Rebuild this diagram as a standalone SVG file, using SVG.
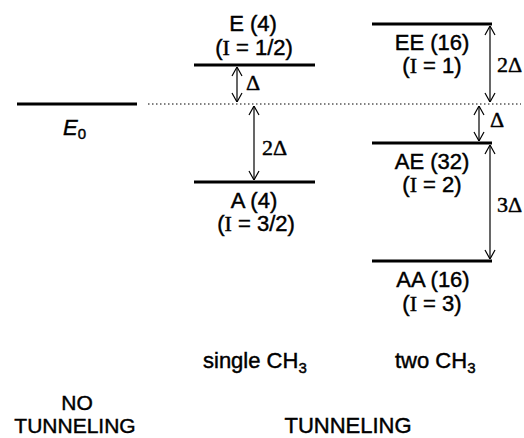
<svg xmlns="http://www.w3.org/2000/svg" width="524" height="438" viewBox="0 0 524 438">
<style>
text{font-family:"Liberation Sans",Arial,sans-serif;font-size:22px;fill:#000;stroke:#000;stroke-width:0.45}
.c{text-anchor:middle}
.s{font-family:"Liberation Serif","Times New Roman",serif}
.b{font-size:21px}
.lvl{stroke:#000;stroke-width:3;fill:none}
.arr{stroke:#000;stroke-width:1.2;fill:none;marker-start:url(#h);marker-end:url(#h)}
</style>
<defs>
<marker id="h" viewBox="0 0 10 12" refX="10" refY="6" markerWidth="10" markerHeight="12" markerUnits="userSpaceOnUse" orient="auto-start-reverse">
<path d="M1,1 L10,6 L1,11" fill="none" stroke="#000" stroke-width="1.2"/>
</marker>
</defs>
<rect width="524" height="438" fill="#fff"/>
<g id="baseline">
<line x1="148" y1="104" x2="521" y2="104" stroke="#000" stroke-width="1" stroke-dasharray="1.5,2.5"/>
</g>
<g id="E0">
<line class="lvl" x1="17" y1="104" x2="137" y2="104"/>
<text x="63" y="135" font-style="italic">E<tspan font-size="15" dy="4" font-style="normal">0</tspan></text>
</g>
<g id="E-single">
<line class="lvl" x1="194" y1="65" x2="315" y2="65"/>
<text class="c" x="253" y="31">E (4)</text>
<text class="c" x="254" y="55">(<tspan class="s">I</tspan> = 1/2)</text>
</g>
<g id="A-single">
<line class="lvl" x1="194" y1="182" x2="315" y2="182"/>
<text class="c" x="254" y="208">A (4)</text>
<text class="c" x="256" y="231">(<tspan class="s">I</tspan> = 3/2)</text>
</g>
<g id="EE">
<line class="lvl" x1="372" y1="24" x2="492" y2="24"/>
<text class="c" x="432" y="50">EE (16)</text>
<text class="c" x="432" y="73">(<tspan class="s">I</tspan> = 1)</text>
</g>
<g id="AE">
<line class="lvl" x1="372" y1="143" x2="492" y2="143"/>
<text class="c" x="432" y="169">AE (32)</text>
<text class="c" x="432" y="192">(<tspan class="s">I</tspan> = 2)</text>
</g>
<g id="AA">
<line class="lvl" x1="372" y1="261" x2="492" y2="261"/>
<text class="c" x="433" y="287">AA (16)</text>
<text class="c" x="432" y="311">(<tspan class="s">I</tspan> = 3)</text>
</g>
<g id="connectors">
<line class="arr" x1="237" y1="67" x2="237" y2="102"/>
<line class="arr" x1="254" y1="106" x2="254" y2="180"/>
<line class="arr" x1="490" y1="26" x2="490" y2="102"/>
<line class="arr" x1="479" y1="106" x2="479" y2="141"/>
<line class="arr" x1="490" y1="145" x2="490" y2="259"/>
</g>
<g id="deltas">
<text class="s" x="246" y="90">Δ</text>
<text class="s" x="262" y="155">2Δ</text>
<text class="s" x="497" y="72">2Δ</text>
<text class="s" x="490" y="127">Δ</text>
<text class="s" x="497" y="212">3Δ</text>
</g>
<g id="labels">
<text x="203" y="368">single CH<tspan font-size="15" dy="5">3</tspan></text>
<text x="395" y="368">two CH<tspan font-size="15" dy="5">3</tspan></text>
<text class="c b" x="77" y="410">NO</text>
<text class="c b" x="75" y="433">TUNNELING</text>
<text class="c" x="348" y="433">TUNNELING</text>
</g>
</svg>
